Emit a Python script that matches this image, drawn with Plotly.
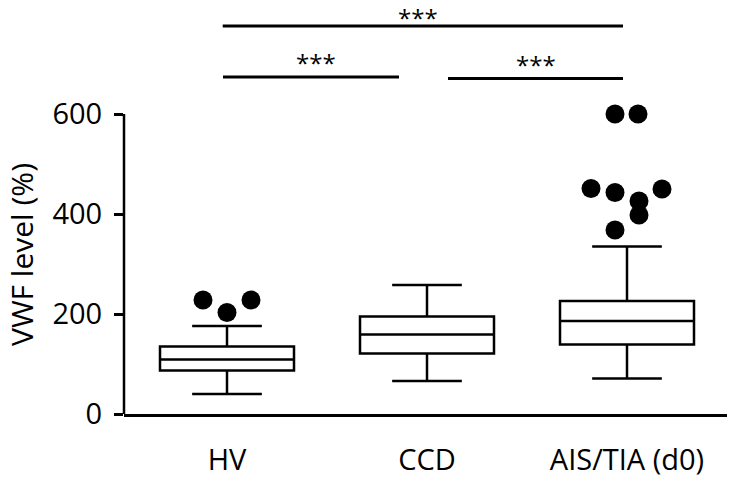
import plotly.graph_objects as go

# ---- data ----
categories = ["HV", "CCD", "AIS/TIA (d0)"]
lower_whisker = [40, 66, 71]
q1 = [87, 121, 139]
median = [109, 159, 186]
q3 = [135, 195, 226]
upper_whisker = [176, 258, 335]

hv_outliers = [228, 203, 228]
hv_outlier_offsets = [-0.12, 0.0, 0.12]
ais_outliers = [600, 600, 451, 443, 426, 398, 368, 450]
ais_outlier_offsets = [-0.06, 0.055, -0.18, -0.06, 0.06, 0.06, -0.06, 0.175]

comparisons = [(0, 2, "***"), (0, 1, "***"), (1, 2, "***")]

FONT = "Open Sans"
LW = 2.5

fig = go.Figure()
xpos = list(range(len(categories)))
fig.add_trace(go.Box(
    x=xpos, q1=q1, median=median, q3=q3,
    lowerfence=lower_whisker, upperfence=upper_whisker,
    width=0.67, whiskerwidth=0.52,
    fillcolor="white", line=dict(color="black", width=LW),
    boxpoints=False, showlegend=False, hoverinfo="skip",
))

ox = [0 + o for o in hv_outlier_offsets] + [2 + o for o in ais_outlier_offsets]
oy = hv_outliers + ais_outliers
fig.add_trace(go.Scatter(
    x=ox, y=oy, mode="markers",
    marker=dict(color="black", size=19),
    cliponaxis=False, showlegend=False, hoverinfo="skip",
))

# significance bars
bar_specs = {
    (0, 2): dict(x0=-0.0215, x1=1.98, y=776, ty=828, tx=0.955, anchor="top"),
    (0, 1): dict(x0=-0.02, x1=0.86, y=674, ty=704, tx=0.445, anchor="middle"),
    (1, 2): dict(x0=1.105, x1=1.98, y=671, ty=700, tx=1.545, anchor="middle"),
}
for a, b, label in comparisons:
    s = bar_specs[(a, b)]
    fig.add_shape(type="line", xref="x", yref="y", x0=s["x0"], x1=s["x1"],
                  y0=s["y"], y1=s["y"], line=dict(color="black", width=3))
    fig.add_annotation(x=s["tx"], y=s["ty"], xref="x", yref="y", text=label,
                       showarrow=False, font=dict(family=FONT, size=24, color="black"),
                       xanchor="center", yanchor=s["anchor"], borderpad=0)

# y axis line (only 0..600)
fig.add_shape(type="line", xref="paper", yref="y", x0=0, x1=0, y0=0, y1=600,
              line=dict(color="black", width=LW))

fig.add_annotation(xref="paper", yref="y", x=0, y=318, xshift=-103,
                   text="VWF level (%)", textangle=-90, showarrow=False,
                   font=dict(family=FONT, size=30, color="black"),
                   xanchor="center", yanchor="middle", borderpad=0)

fig.update_layout(
    width=732, height=478,
    margin=dict(l=124, r=5, t=0, b=64),
    plot_bgcolor="white", paper_bgcolor="white",
    font=dict(family=FONT, size=29, color="black"),
    xaxis=dict(range=[-0.515, 2.5], tickvals=xpos, ticktext=categories,
               showline=True, linecolor="black", linewidth=LW,
               ticks="", showgrid=False, zeroline=False, ticklabelstandoff=18),
    yaxis=dict(range=[0, 828], tickvals=[0, 200, 400, 600],
               ticks="outside", ticklen=9, tickwidth=LW, tickcolor="black",
               showline=False, showgrid=False, zeroline=False,
               ticklabelstandoff=6),
)

fig.write_html("out.html", config={"displayModeBar": False},
               post_script="document.body.style.margin='0';")
